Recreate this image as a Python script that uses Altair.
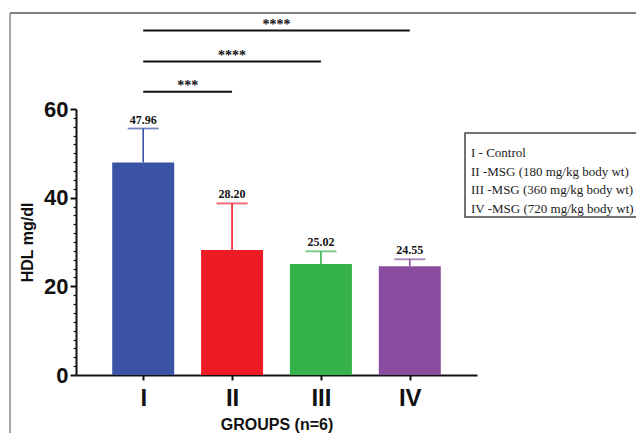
import altair as alt
import pandas as pd

# ---- data ----
groups = ["I", "II", "III", "IV"]
means = [47.96, 28.20, 25.02, 24.55]
err_top = [55.6, 38.7, 27.9, 26.1]
value_labels = ["47.96", "28.20", "25.02", "24.55"]
colors = ["#3A53A4", "#ED1C24", "#35B34A", "#8A4C9E"]

sig_from = ["I", "I", "I"]
sig_to = ["II", "III", "IV"]
sig_height = [63.9, 70.7, 77.7]
sig_stars = ["***", "****", "****"]

legend_lines = [
    "I - Control",
    "II -MSG (180 mg/kg body wt)",
    "III -MSG (360 mg/kg body wt)",
    "IV -MSG (720 mg/kg body wt)",
]

y_ticks = list(range(0, 61, 2))
x_ticks = list(range(len(groups)))

# ---- tables ----
bars = pd.DataFrame({
    "group": groups,
    "idx": x_ticks,
    "mean": means,
    "top": err_top,
    "label": value_labels,
})
sig = pd.DataFrame({
    "x1": [groups.index(g) for g in sig_from],
    "x2": [groups.index(g) for g in sig_to],
    "h": sig_height,
    "stars": sig_stars,
})
sig["mid"] = (sig["x1"] + sig["x2"]) / 2
one = pd.DataFrame({"a": [0]})

AX_FONT = "Liberation Sans"
SERIF = "Liberation Serif"

xs = alt.Scale(domain=[-0.7, 3.7], nice=False, zero=False)
ys = alt.Scale(domain=[0, 60], nice=False, zero=True)
label_map = "[" + ",".join("'%s'" % g for g in groups) + "][datum.value]"

x_axis = alt.Axis(
    values=x_ticks, labelExpr=label_map, title="GROUPS (n=6)",
    labelFontSize=24, labelPadding=6, tickSize=5, tickWidth=2,
    titleFontSize=16, titlePadding=6, grid=False,
)
y_axis = alt.Axis(
    values=y_ticks,
    labelExpr="datum.value % 20 === 0 ? datum.label : ''",
    tickSize={"condition": {"test": "datum.value % 20 === 0", "value": 6}, "value": 3},
    tickWidth={"condition": {"test": "datum.value % 20 === 0", "value": 2}, "value": 1.2},
    title="HDL mg/dl", labelFontSize=22, labelPadding=2,
    titleFontSize=16, titlePadding=8, grid=False,
)


def X(field):
    return alt.X(field, scale=xs, axis=x_axis)


def Y(field):
    return alt.Y(field, scale=ys, axis=y_axis)


color = alt.Color("group:N", scale=alt.Scale(domain=groups, range=colors), legend=None)

base = alt.Chart(bars)

bar_layer = base.mark_bar(size=62).encode(
    x=X("idx:Q"), y=Y("mean:Q"), color=color,
)
err_layer = base.mark_rule(strokeWidth=1.6).encode(
    x=X("idx:Q"), y=Y("mean:Q"), y2="top:Q", color=color,
)
cap_layer = base.mark_tick(orient="horizontal", size=31, thickness=1.8).encode(
    x=X("idx:Q"), y=Y("top:Q"), color=color,
)
val_layer = base.mark_text(
    dy=-5, baseline="alphabetic", font=SERIF, fontWeight="bold", fontSize=12, color="#111"
).encode(
    x=X("idx:Q"), y=Y("top:Q"), text="label:N",
)

sig_base = alt.Chart(sig)
sig_lines = sig_base.mark_rule(strokeWidth=2, color="#111").encode(
    x=X("x1:Q"), x2="x2:Q", y=Y("h:Q"),
)
sig_text = sig_base.mark_text(
    dy=-2, baseline="alphabetic", font=SERIF, fontWeight="bold", fontSize=14, color="#111"
).encode(
    x=X("mid:Q"), y=Y("h:Q"), text="stars:N",
)

legend_box = alt.Chart(one).mark_rect(fill="white", stroke="#444", strokeWidth=1.5).encode(
    x=alt.value(389), x2=alt.value(567), y=alt.value(24), y2=alt.value(108)
)
legend_text = alt.Chart(one).mark_text(
    align="left", baseline="alphabetic", font=SERIF, fontSize=13, lineHeight=18.5, color="#222"
).encode(
    x=alt.value(395), y=alt.value(48), text=alt.value(legend_lines)
)

frame_top = alt.Chart(one).mark_rule(color="#555", strokeWidth=1.5).encode(
    x=alt.value(-66), x2=alt.value(570), y=alt.value(-96)
)
frame_left = alt.Chart(one).mark_rule(color="#888", strokeWidth=1.5).encode(
    x=alt.value(-66), y=alt.value(-96), y2=alt.value(340)
)

chart = alt.layer(
    frame_top, frame_left,
    bar_layer, err_layer, cap_layer, val_layer,
    sig_lines, sig_text,
    legend_box, legend_text,
).properties(
    width=401, height=266,
    autosize=alt.AutoSizeParams(type="none"),
    padding={"left": 68, "top": 101, "right": 159, "bottom": 58},
).configure_axis(
    labelFont=AX_FONT, labelFontWeight="bold", labelColor="#111",
    titleFont=AX_FONT, titleFontWeight="bold", titleColor="#111",
    domainColor="#111", domainWidth=2, tickColor="#111",
).configure_view(stroke=None)

chart.save("out.html", embed_options={"renderer": "svg", "actions": False})
